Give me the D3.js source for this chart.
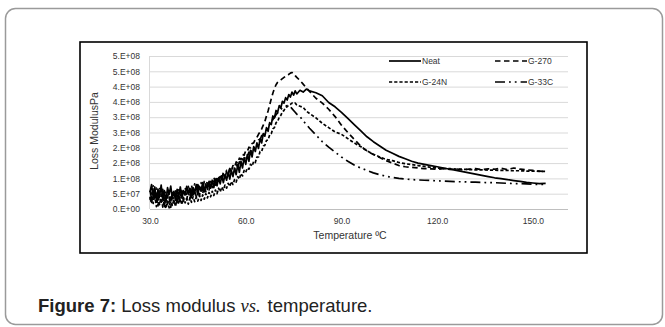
<!DOCTYPE html>
<html>
<head>
<meta charset="utf-8">
<script src="https://cdn.jsdelivr.net/npm/d3@7"></script>
<style>
  body { margin: 0; background: #fff; }
  svg { display: block; }
</style>
</head>
<body>
<svg id="chart" width="665" height="327"></svg>
<script>
// temperatures (ºC), shared by all four series
// half-degree steps through the noisy part, then coarser
var temps = [30,30.5,31,31.5,32,32.5,33,33.5,34,34.5,35,35.5,36,36.5,37,37.5,38,38.5,39,39.5,
  40,40.5,41,41.5,42,42.5,43,43.5,44,44.5,45,45.5,46,46.5,47,47.5,48,48.5,49,49.5,
  50,50.5,51,51.5,52,52.5,53,53.5,54,54.5,55,55.5,56,56.5,57,57.5,58,58.5,59,59.5,
  60,60.5,61,61.5,62,62.5,63,63.5,64,64.5,65,65.5,66,66.5,67,67.5,68,68.5,69,69.5,
  70,70.5,71,71.5,72,72.5,73,73.5,74,74.5,75,75.5,76,
  77,78,79,80,
  82,84,86,88,90,92,94,96,98,100,102,104,106,108,110,112,114,116,118,120,
  122,124,126,128,130,132,134,136,138,140,142,144,146,148,150,152,154];

// loss modulus, in units of 1e7 Pa
var neat = [5.5,8.0,3.8,7.2,2.6,6.5,4.2,7.8,3.0,6.0,2.2,7.0,4.8,7.5,3.5,5.8,2.8,6.4,4.0,7.2,
  3.6,6.0,4.6,7.4,5.0,6.8,3.8,7.0,5.2,8.0,4.6,7.4,5.8,8.6,5.6,8.2,6.4,9.0,6.8,9.4,
  7.0,9.8,7.6,10.2,8.2,10.8,8.6,11.2,9.4,12.0,9.8,12.6,10.6,13.4,11.2,14.6,12.0,15.6,13.4,16.8,
  14.6,17.8,15.6,19.2,17.0,20.4,18.8,21.6,19.8,23.0,21.6,24.6,23.8,26.6,25.4,28.2,27.6,30.4,29.8,32.2,
  31.6,33.8,33.0,35.2,34.6,36.4,35.6,37.4,36.6,38.2,37.2,38.6,37.6,
  38.8,38.2,39.2,38.6,
  38.0,37.0,34.8,33.4,31.6,29.6,27.6,25.6,23.6,22.0,20.6,19.2,18.2,17.2,16.4,15.6,15.0,14.6,14.2,13.8,
  13.4,13.0,12.6,12.2,11.8,11.4,11.0,10.6,10.2,9.9,9.6,9.3,9.0,8.7,8.5,8.3,8.4];

var g270 = [4.0,1.5,6.5,3.0,5.5,1.0,4.8,2.2,5.6,0.8,4.2,1.6,3.8,0.5,4.4,2.0,5.2,1.4,4.6,2.4,
  5.0,2.6,5.4,3.0,5.8,3.2,6.0,3.8,6.4,4.0,6.8,4.4,7.0,5.0,7.6,5.6,8.0,6.2,8.6,7.0,
  9.0,7.8,9.8,8.6,10.6,9.4,11.4,10.4,12.2,11.4,13.2,12.4,14.2,13.6,15.4,15.0,16.6,16.2,17.8,17.6,
  19.0,18.8,20.2,20.0,21.4,21.6,22.8,23.4,24.4,25.2,26.2,27.4,28.6,30.4,32.0,34.0,36.0,37.8,39.4,40.6,
  41.4,41.8,42.2,42.6,43.0,43.4,43.8,44.0,44.4,44.6,44.2,43.6,43.0,
  42.0,40.8,39.6,38.4,
  36.2,34.6,32.6,30.2,27.4,25.0,22.8,20.6,19.0,17.8,16.8,15.8,15.0,14.2,13.8,13.6,13.4,13.2,13.1,13.0,
  13.2,12.9,13.1,12.8,13.0,13.2,12.9,13.1,13.0,13.3,12.9,13.4,13.0,12.8,12.6,12.4,12.2];

var g24n = [3.0,5.2,1.8,4.6,0.8,3.8,1.4,4.4,0.6,3.0,0.2,2.6,0.4,3.4,1.2,2.8,0.8,3.6,1.6,3.2,
  1.4,3.8,2.0,3.4,1.6,3.6,2.2,4.0,2.4,3.8,2.6,4.4,2.8,4.6,3.2,5.0,3.6,5.4,4.0,5.8,
  4.4,6.2,5.0,6.8,5.6,7.2,6.2,7.8,6.8,8.4,7.4,9.0,8.0,9.6,8.8,10.6,9.8,11.6,10.8,12.6,
  12.0,13.4,13.0,14.6,14.0,15.6,15.2,17.0,17.0,18.8,18.8,20.6,20.8,22.4,22.6,24.2,24.6,26.2,26.6,28.2,
  28.6,30.0,30.6,31.8,32.2,33.2,33.4,34.0,34.2,34.6,34.4,34.6,34.0,
  33.6,33.2,32.0,31.2,
  29.8,28.0,26.6,25.2,24.4,23.0,21.6,20.4,19.0,17.9,17.0,16.2,15.8,15.2,14.8,14.5,14.2,13.9,13.6,13.4,
  13.2,13.2,13.0,13.0,12.9,12.8,12.8,12.7,12.7,12.6,12.6,12.5,12.5,12.4,12.4,12.3,12.3];

var g33c = [6.0,3.4,7.6,4.2,6.8,3.0,7.2,4.6,6.4,2.8,5.8,3.6,6.6,2.4,5.4,3.2,6.2,3.8,6.8,4.0,
  6.0,4.4,7.0,4.8,7.4,5.0,7.8,5.4,8.2,5.6,8.0,6.0,8.6,6.4,9.0,7.0,9.4,7.4,9.8,8.0,
  10.4,8.6,10.8,9.2,11.4,9.8,12.0,10.6,12.6,11.2,13.2,12.0,13.8,12.8,14.6,13.8,15.4,14.8,16.4,15.8,
  17.4,17.0,18.6,18.2,19.8,19.6,21.2,21.0,22.6,22.6,24.0,24.2,25.6,25.8,27.0,27.6,28.6,29.2,30.0,30.8,
  31.4,32.0,32.6,33.0,33.4,33.6,33.8,33.6,33.4,32.8,32.2,31.6,31.0,
  30.2,28.8,27.6,26.4,
  24.2,22.0,20.2,18.6,17.0,15.6,14.4,13.4,12.6,11.8,11.2,10.7,10.3,10.0,9.8,9.6,9.5,9.4,9.3,9.2,
  9.1,9.0,8.9,8.9,8.8,8.8,8.7,8.6,8.6,8.5,8.4,8.3,8.3,8.2,8.1,8.0,8.0];

var seriesNames = ["Neat", "G-270", "G-24N", "G-33C"];
var xTicks = [30, 60, 90, 120, 150];
var yTicks = [0, 5e7, 1e8, 1.5e8, 2e8, 2.5e8, 3e8, 3.5e8, 4e8, 4.5e8, 5e8];

var svg = d3.select("#chart");
var font = "'Liberation Sans', Arial, sans-serif";

// outer card
svg.append("rect")
  .attr("x", 5.5).attr("y", 8.5)
  .attr("width", 657).attr("height", 316)
  .attr("rx", 10).attr("ry", 10)
  .attr("fill", "none")
  .attr("stroke", "#9a9a9a")
  .attr("stroke-width", 1.5);

// chart frame
svg.append("rect")
  .attr("x", 80).attr("y", 42)
  .attr("width", 507).attr("height", 211)
  .attr("fill", "#fff")
  .attr("stroke", "#000")
  .attr("stroke-width", 1.6);

var x = d3.scaleLinear().domain([30, 161]).range([150, 568]);
var y = d3.scaleLinear().domain([0, 5e8]).range([209, 56]);

// gridlines
svg.append("g").selectAll("line")
  .data(yTicks)
  .enter().append("line")
  .attr("x1", x(30)).attr("x2", x(161))
  .attr("y1", function(d) { return y(d) + 0.5; })
  .attr("y2", function(d) { return y(d) + 0.5; })
  .attr("stroke", function(d) { return d === 0 ? "#bfbfbf" : "#d9d9d9"; })
  .attr("stroke-width", 1);

svg.append("line")
  .attr("x1", x(30) - 0.5).attr("x2", x(30) - 0.5)
  .attr("y1", y(5e8)).attr("y2", y(0))
  .attr("stroke", "#d9d9d9");

// axes (labels only, Excel style)
var yAxis = d3.axisLeft(y)
  .tickValues(yTicks)
  .tickSize(0)
  .tickPadding(10)
  .tickFormat(function(d) { return d.toExponential(0).replace("e", ".E").replace(/E\+(\d)$/, "E+0$1"); });

var gy = svg.append("g").attr("transform", "translate(" + x(30) + ",0)").call(yAxis);
gy.select(".domain").remove();
gy.selectAll("text").attr("font-family", font).attr("font-size", 8.5).attr("fill", "#333");

var xAxis = d3.axisBottom(x)
  .tickValues(xTicks)
  .tickSize(0)
  .tickPadding(9)
  .tickFormat(d3.format(".1f"));

var gx = svg.append("g").attr("transform", "translate(0," + y(0) + ")").call(xAxis);
gx.select(".domain").remove();
gx.selectAll("text").attr("font-family", font).attr("font-size", 8.5).attr("fill", "#333");

// axis titles
svg.append("text")
  .attr("x", 350).attr("y", 239)
  .attr("text-anchor", "middle")
  .attr("font-family", font).attr("font-size", 10.5)
  .attr("fill", "#333")
  .text("Temperature ºC");

svg.append("text")
  .attr("transform", "translate(98,131) rotate(-90)")
  .attr("text-anchor", "middle")
  .attr("font-family", font).attr("font-size", 10.5)
  .attr("fill", "#333")
  .text("Loss ModulusPa");

// series
var dashes = ["", "5.5,3.5", "3.2,2", "10,4,1.8,4,1.8,4"];
var allSeries = [neat, g270, g24n, g33c];

var line = d3.line()
  .x(function(d, i) { return x(temps[i]); })
  .y(function(d) { return y(d * 1e7); });

svg.append("g").selectAll("path")
  .data(allSeries)
  .enter().append("path")
  .attr("d", line)
  .attr("fill", "none")
  .attr("stroke", "#000")
  .attr("stroke-width", 1.7)
  .attr("stroke-linejoin", "round")
  .attr("stroke-dasharray", function(d, i) { return dashes[i]; });

// legend
var legendPos = [[389, 61], [495, 61], [389, 82], [495, 82]];
var leg = svg.append("g").selectAll("g")
  .data(seriesNames)
  .enter().append("g")
  .attr("transform", function(d, i) { return "translate(" + legendPos[i][0] + "," + legendPos[i][1] + ")"; });

leg.append("line")
  .attr("x1", 0).attr("x2", 32)
  .attr("stroke", "#000")
  .attr("stroke-width", 1.7)
  .attr("stroke-dasharray", function(d, i) { return dashes[i]; });

leg.append("text")
  .attr("x", 33).attr("y", 3)
  .attr("font-family", font).attr("font-size", 8.5)
  .attr("fill", "#333")
  .text(function(d) { return d; });

// caption
var cap = svg.append("text")
  .attr("x", 38).attr("y", 312)
  .attr("font-family", font).attr("font-size", 18.5)
  .attr("fill", "#222");
cap.append("tspan").attr("font-weight", "bold").text("Figure 7:");
cap.append("tspan").text(" Loss modulus ");
cap.append("tspan").attr("font-family", "'Liberation Serif', 'Times New Roman', serif").attr("font-style", "italic").text("vs.");
cap.append("tspan").attr("dx", 7).text("temperature.");
</script>
</body>
</html>
